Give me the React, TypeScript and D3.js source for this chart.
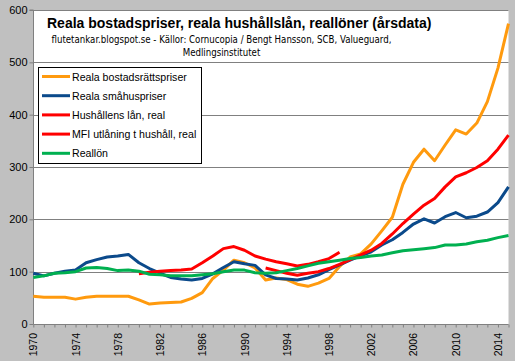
import React, { useEffect, useRef } from 'react';
import * as d3 from 'd3';

const years = d3.range(1970, 2016);

const bostadsratt = [53, 51, 51, 51, 47.5, 51, 53, 53, 53, 53, 46, 38, 40, 41, 42, 49, 60, 87, 103, 122,
  117, 107, 84, 88, 85, 76, 72, 78, 87, 110, 128, 134, 153, 178, 204, 267, 309, 334, 312, 342,
  371, 363, 384, 425, 489, 574];
const smahus = [97, 92, 97, 101, 103, 117, 123, 128, 130, 133, 117, 106, 97, 89, 86, 84, 87, 96, 108, 119,
  115, 112, 94, 87, 86, 84, 88, 94, 104, 113, 122, 130, 138, 151, 161, 175, 191, 201, 193, 205,
  213, 203, 206, 214, 232, 262];
const reallon = [89, 92, 97, 98, 100, 107, 108, 106, 102, 103, 101, 95, 94, 92, 92, 92, 94, 96, 100, 103,
  103, 98, 97, 98, 102, 106, 111, 116, 119, 122, 125, 127, 130, 132, 136, 140, 142, 144, 146, 151,
  151, 153, 157, 160, 165, 169];
// 1980-1999
const hushallensLan = [96, 99, 101, 102, 103, 105, 117, 130, 144, 148, 141, 130, 124, 119, 115, 111, 114, 119, 125, 137];
// 1992-2015
const mfiUtlaning = [107, 102, 97, 93, 97, 100, 106, 114, 123, 132, 141, 154, 172, 192, 210, 227, 240, 262, 281, 289,
  299, 312, 334, 361];

const yTicks = [0, 100, 200, 300, 400, 500, 600];
const xLabelYears = d3.range(1970, 2016, 4);

const series = [
  { name: 'Reala bostadsrättspriser', color: '#ff9a0e', start: 1970, values: bostadsratt },
  { name: 'Reala småhuspriser', color: '#0b4a8b', start: 1970, values: smahus },
  { name: 'Hushållens lån, real', color: '#ff0000', start: 1980, values: hushallensLan },
  { name: 'MFI utlåning t hushåll, real', color: '#ff0000', start: 1992, values: mfiUtlaning },
  { name: 'Reallön', color: '#00b050', start: 1970, values: reallon },
];

const App = () => {
  const svgRef = useRef(null);

  useEffect(() => {
    const svg = d3.select(svgRef.current);
    svg.selectAll('*').remove();

    const width = 515;
    const height = 361;
    const left = 33.3, right = 508.5, top = 10, bottom = 324;

    const x = d3.scaleLinear().domain([1970, 2015]).range([left, right]);
    const y = d3.scaleLinear().domain([0, 600]).range([bottom, top]);

    svg.attr('width', width).attr('height', height);

    // background + plot area
    svg.append('rect').attr('width', width).attr('height', height).attr('fill', '#c0c0c0');
    svg.append('rect')
      .attr('x', left).attr('y', top)
      .attr('width', right - left).attr('height', bottom - top)
      .attr('fill', '#ffffff');

    // gridlines
    svg.append('g')
      .selectAll('line')
      .data(yTicks.filter(d => d > 0))
      .enter()
      .append('line')
      .attr('x1', left).attr('x2', right)
      .attr('y1', d => Math.round(y(d)) + 0.5).attr('y2', d => Math.round(y(d)) + 0.5)
      .attr('stroke', '#808080')
      .attr('stroke-width', 1);

    // y axis
    const yAxis = svg.append('g')
      .attr('transform', `translate(${Math.round(left) + 0.5},0)`)
      .call(d3.axisLeft(y).tickValues(yTicks).tickSize(4).tickFormat(d3.format('d')));
    yAxis.select('.domain').attr('stroke', '#808080').attr('d', `M-4,${y(600)}H0V${y(0)}`);
    yAxis.selectAll('.tick line').attr('stroke', '#808080');
    yAxis.selectAll('.tick text')
      .attr('x', -6)
      .style('font-family', 'Liberation Sans, Arial, sans-serif')
      .style('font-size', '11px')
      .attr('fill', '#000');

    // x axis
    const xAxis = svg.append('g')
      .attr('transform', `translate(0,${Math.round(bottom) + 0.5})`)
      .call(d3.axisBottom(x).tickValues(years).tickSize(3).tickFormat(() => ''));
    xAxis.select('.domain').attr('stroke', '#808080').attr('d', `M${x(1970)},0H${x(2015)}`);
    xAxis.selectAll('.tick line').attr('stroke', '#808080');

    svg.append('g')
      .selectAll('text')
      .data(xLabelYears)
      .enter()
      .append('text')
      .attr('transform', d => `translate(${x(d) + 4},333) rotate(-90)`)
      .attr('text-anchor', 'end')
      .style('font-family', 'Liberation Sans, Arial, sans-serif')
      .style('font-size', '10.5px')
      .text(d => d);

    // lines
    const line = d3.line()
      .x(d => x(d[0]))
      .y(d => y(d[1]));

    series.forEach(s => {
      svg.append('path')
        .datum(s.values.map((v, i) => [s.start + i, v]))
        .attr('d', line)
        .attr('fill', 'none')
        .attr('stroke', s.color)
        .attr('stroke-width', 3)
        .attr('stroke-linejoin', 'round');
    });

    // title
    svg.append('text')
      .attr('x', 47).attr('y', 27.5)
      .style('font-family', 'Liberation Sans, Arial, sans-serif')
      .style('font-size', '14px')
      .style('font-weight', 'bold')
      .text('Reala bostadspriser, reala hushållslån, reallöner (årsdata)');

    const sub = svg.append('text')
      .attr('text-anchor', 'middle')
      .style('font-family', 'DejaVu Sans Condensed, DejaVu Sans, sans-serif')
      .style('font-size', '9.6px');
    sub.append('tspan').attr('x', 221.5).attr('y', 43)
      .text('flutetankar.blogspot.se - Källor: Cornucopia / Bengt Hansson, SCB, Valueguard,');
    sub.append('tspan').attr('x', 221.5).attr('y', 55.5)
      .text('Medlingsinstitutet');

    // legend
    const legend = svg.append('g');
    legend.append('rect')
      .attr('x', 38.5).attr('y', 67.5)
      .attr('width', 163).attr('height', 96)
      .attr('fill', '#fff')
      .attr('stroke', '#000')
      .attr('stroke-width', 1);

    const item = legend.selectAll('g.item')
      .data(series)
      .enter()
      .append('g')
      .attr('class', 'item')
      .attr('transform', (d, i) => `translate(0,${76.5 + i * 19.2})`);

    item.append('line')
      .attr('x1', 42).attr('x2', 70)
      .attr('stroke', d => d.color)
      .attr('stroke-width', 3);

    item.append('text')
      .attr('x', 72).attr('y', 4)
      .style('font-family', 'Liberation Sans, Arial, sans-serif')
      .style('font-size', '10.6px')
      .text(d => d.name);
  }, []);

  return (
    <div style={{ position: 'fixed', left: 0, top: 0 }}>
      <svg ref={svgRef}></svg>
    </div>
  );
};

export default App;
